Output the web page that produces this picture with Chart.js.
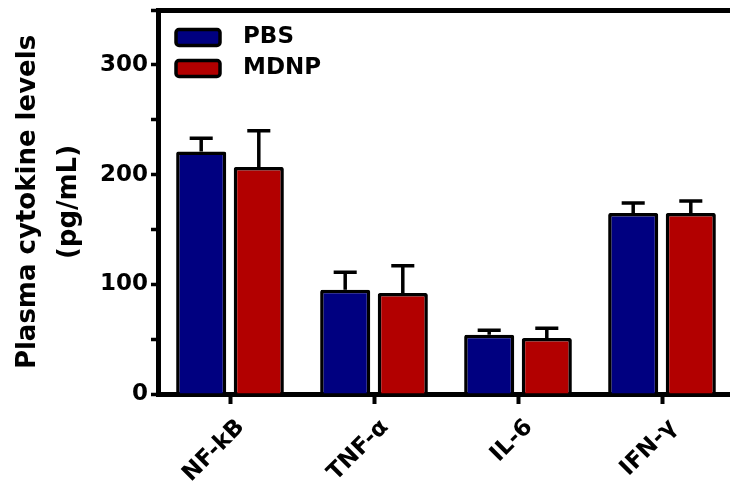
<!DOCTYPE html>
<html>
<head>
<meta charset="utf-8">
<script src="https://cdn.jsdelivr.net/npm/chart.js@4.4.1/dist/chart.umd.min.js"></script>
<style>
  html, body { margin: 0; padding: 0; background: #ffffff; overflow: hidden; }
  #wrap { width: 740px; height: 497px; }
</style>
</head>
<body>
<div id="wrap"><canvas id="c" width="740" height="497"></canvas></div>
<script>
// ---- data ----
const categories = ['NF-kB', 'TNF-\u03b1', 'IL-6', 'IFN-\u03b3'];
const seriesNames = ['PBS', 'MDNP'];
const pbsValues = [221, 95, 54, 165];
const pbsErrors = [12, 16, 4, 9];
const mdnpValues = [207, 92, 51, 165];
const mdnpErrors = [33, 25, 9, 11];
const yTickValues = [0, 50, 100, 150, 200, 250, 300, 350];
const yLabelValues = [0, 100, 200, 300];
const yTitle = ['Plasma cytokine levels', '(pg/mL)'];

const FONT = "'DejaVu Sans', 'Liberation Sans', Arial, sans-serif";

const errorBarPlugin = {
  id: 'errorBars',
  afterDatasetsDraw(chart) {
    const ctx = chart.ctx;
    const yScale = chart.scales.y;
    chart.data.datasets.forEach((ds, i) => {
      const meta = chart.getDatasetMeta(i);
      if (meta.hidden) return;
      meta.data.forEach((bar, j) => {
        const v = ds.data[j];
        const e = ds.errors[j];
        const yBar = yScale.getPixelForValue(v);
        const yTop = yScale.getPixelForValue(v + e);
        const half = bar.width * 0.23;
        ctx.save();
        ctx.strokeStyle = '#000';
        ctx.lineWidth = 3.5;
        ctx.lineCap = 'butt';
        ctx.beginPath();
        ctx.moveTo(bar.x, yBar);
        ctx.lineTo(bar.x, yTop);
        ctx.moveTo(bar.x - half, yTop);
        ctx.lineTo(bar.x + half, yTop);
        ctx.stroke();
        ctx.restore();
      });
    });
  }
};

// place the legend inside the plot area, a little in from its top-left corner
const legendInsetPlugin = {
  id: 'legendInset',
  afterLayout(chart) {
    const lg = chart.legend;
    if (!lg) return;
    const dx = chart.chartArea.left + 10 - lg.left;
    const dy = chart.chartArea.top + 8 - lg.top;
    lg.left += dx; lg.right += dx;
    lg.top += dy; lg.bottom += dy;
  }
};

new Chart(document.getElementById('c'), {
  type: 'bar',
  data: {
    labels: categories,
    datasets: [
      {
        label: seriesNames[0],
        data: pbsValues,
        errors: pbsErrors,
        backgroundColor: '#000080',
        borderColor: '#000000',
        borderWidth: 3.5,
        borderRadius: 2,
        borderSkipped: 'start',
        xAxisID: 'x',
        yAxisID: 'y'
      },
      {
        label: seriesNames[1],
        data: mdnpValues,
        errors: mdnpErrors,
        backgroundColor: '#b20000',
        borderColor: '#000000',
        borderWidth: 3.5,
        borderRadius: 2,
        borderSkipped: 'start',
        xAxisID: 'x',
        yAxisID: 'y'
      }
    ]
  },
  options: {
    responsive: false,
    animation: false,
    devicePixelRatio: 1,
    layout: { padding: { top: 10, left: 0, right: 6, bottom: 0 } },
    datasets: { bar: { categoryPercentage: 0.8, barPercentage: 0.87 } },
    plugins: {
      legend: {
        position: 'chartArea',
        align: 'start',
        labels: {
          color: '#000',
          font: { family: FONT, size: 23, weight: 'bold' },
          boxWidth: 44,
          boxHeight: 16,
          padding: 8,
          useBorderRadius: true,
          borderRadius: 3,
          generateLabels(chart) {
            const items = Chart.defaults.plugins.legend.labels.generateLabels(chart);
            items.forEach(it => { it.text = '\u2002' + it.text; });
            return items;
          }
        }
      },
      tooltip: { enabled: false },
      title: { display: false }
    },
    scales: {
      x: {
        position: 'bottom',
        grid: {
          display: true,
          drawOnChartArea: false,
          drawTicks: true,
          offset: false,
          tickLength: 10,
          tickWidth: 4,
          tickColor: '#000'
        },
        border: { display: true, color: '#000', width: 5 },
        ticks: {
          color: '#000',
          font: { family: FONT, size: 23, weight: 'bold' },
          minRotation: 45,
          maxRotation: 45,
          padding: 10,
          labelOffset: 11,
          autoSkip: false
        },
        afterFit(scale) { scale.height = 103; }
      },
      xTop: {
        position: 'top',
        type: 'category',
        labels: categories,
        grid: { display: false, drawTicks: false },
        border: { display: true, color: '#000', width: 5 },
        ticks: { display: false },
        afterFit(scale) { scale.height = 0; scale.paddingLeft = 0; scale.paddingRight = 0; }
      },
      y: {
        position: 'left',
        min: 0,
        max: 350,
        afterBuildTicks(scale) { scale.ticks = yTickValues.map(v => ({ value: v })); },
        grid: {
          display: true,
          drawOnChartArea: false,
          drawTicks: true,
          tickLength: 7,
          tickWidth: 3.5,
          tickColor: '#000'
        },
        border: { display: true, color: '#000', width: 5 },
        ticks: {
          color: '#000',
          font: { family: FONT, size: 23, weight: 'bold' },
          padding: 3,
          callback(v) { return yLabelValues.includes(v) ? String(v) : ''; }
        },
        title: {
          display: true,
          text: yTitle,
          color: '#000',
          font: { family: FONT, size: 26, weight: 'bold', lineHeight: 1.6 },
          padding: { top: 7, bottom: 0 }
        },
        afterFit(scale) { scale.width = 158; scale.paddingTop = 0; scale.paddingBottom = 0; }
      }
    }
  },
  plugins: [errorBarPlugin, legendInsetPlugin]
});
</script>
</body>
</html>
